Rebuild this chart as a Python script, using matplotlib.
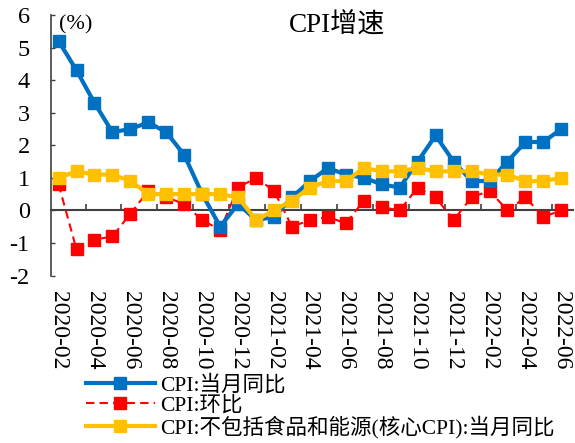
import matplotlib
matplotlib.use("Agg")
import matplotlib.pyplot as plt

plt.rcParams['font.family'] = ['Liberation Serif', 'Noto Sans CJK SC']
plt.rcParams['axes.unicode_minus'] = False

months = ["2020-02", "2020-03", "2020-04", "2020-05", "2020-06", "2020-07", "2020-08",
          "2020-09", "2020-10", "2020-11", "2020-12", "2021-01", "2021-02", "2021-03",
          "2021-04", "2021-05", "2021-06", "2021-07", "2021-08", "2021-09", "2021-10",
          "2021-11", "2021-12", "2022-01", "2022-02", "2022-03", "2022-04", "2022-05",
          "2022-06"]
cpi_yoy = [5.2, 4.3, 3.3, 2.4, 2.5, 2.7, 2.4, 1.7, 0.5, -0.5, 0.2, -0.3, -0.2, 0.4,
           0.9, 1.3, 1.1, 1.0, 0.8, 0.7, 1.5, 2.3, 1.5, 0.9, 0.9, 1.5, 2.1, 2.1, 2.5]
cpi_mom = [0.8, -1.2, -0.9, -0.8, -0.1, 0.6, 0.4, 0.2, -0.3, -0.6, 0.7, 1.0, 0.6, -0.5,
           -0.3, -0.2, -0.4, 0.3, 0.1, 0.0, 0.7, 0.4, -0.3, 0.4, 0.6, 0.0, 0.4, -0.2, 0.0]
core_yoy = [1.0, 1.2, 1.1, 1.1, 0.9, 0.5, 0.5, 0.5, 0.5, 0.5, 0.4, -0.3, 0.0, 0.3,
            0.7, 0.9, 0.9, 1.3, 1.2, 1.2, 1.3, 1.2, 1.2, 1.2, 1.1, 1.1, 0.9, 0.9, 1.0]
labels = ["CPI:当月同比", "CPI:环比", "CPI:不包括食品和能源(核心CPI):当月同比"]
yticks = [-2, -1, 0, 1, 2, 3, 4, 5, 6]

BLUE = "#0070C0"
RED = "#FF0000"
YELLOW = "#FFC000"
AXC = "#404040"

fig = plt.figure(figsize=(5.75, 4.43), dpi=100)
ax = fig.add_axes([50.5 / 575, 1 - 275.5 / 443, (573 - 50.5) / 575, (275.5 - 15) / 443])

x = list(range(len(months)))
l1, = ax.plot(x, cpi_yoy, color=BLUE, lw=3, marker='s', ms=8, zorder=3)
l2, = ax.plot(x, cpi_mom, color=RED, lw=1.5, ls=(0, (4, 2.5)), marker='s', ms=8, zorder=2)
l3, = ax.plot(x, core_yoy, color=YELLOW, lw=3, marker='s', ms=8, zorder=4)

ax.set_xlim(-0.45, 28.65)
ax.set_ylim(-2, 6)
ax.set_yticks(yticks)
ax.set_yticklabels([str(v) for v in yticks])
ax.tick_params(axis='y', direction='in', length=3, width=1, color=AXC, labelsize=17.5, pad=15)

ax.set_xticks(x[::2])
ax.set_xticklabels(months[::2], rotation=270, fontsize=17)
ax.tick_params(axis='x', length=0, pad=11)

for s in ['top', 'right', 'bottom']:
    ax.spines[s].set_visible(False)
ax.spines['left'].set_color(AXC)
ax.spines['left'].set_linewidth(1.2)

# zero axis line with between-category ticks
sec = ax.secondary_xaxis(0.25)
sec.set_xticks([i + 1.5 for i in x[::2][:-1]])
sec.set_xticklabels([])
sec.tick_params(axis='x', direction='in', length=4, width=1.2, color=AXC)
for s in ['top', 'bottom']:
    sec.spines[s].set_color(AXC)
    sec.spines[s].set_linewidth(1.5)

fig.text(337 / 575, 1 - 26 / 443, "CPI增速", fontsize=19.5, ha='center', va='center')
fig.text(59 / 575, 1 - 25 / 443, "(%)", fontsize=16, ha='left', va='center')

fig.legend([l1, l2, l3], labels, loc='center left',
           bbox_to_anchor=(86 / 575, 1 - 406.5 / 443), frameon=False,
           fontsize=15.5, handlelength=3.2, handletextpad=0.25, labelspacing=0.0,
           borderpad=0, borderaxespad=0)

fig.savefig("out.png", dpi=100)
